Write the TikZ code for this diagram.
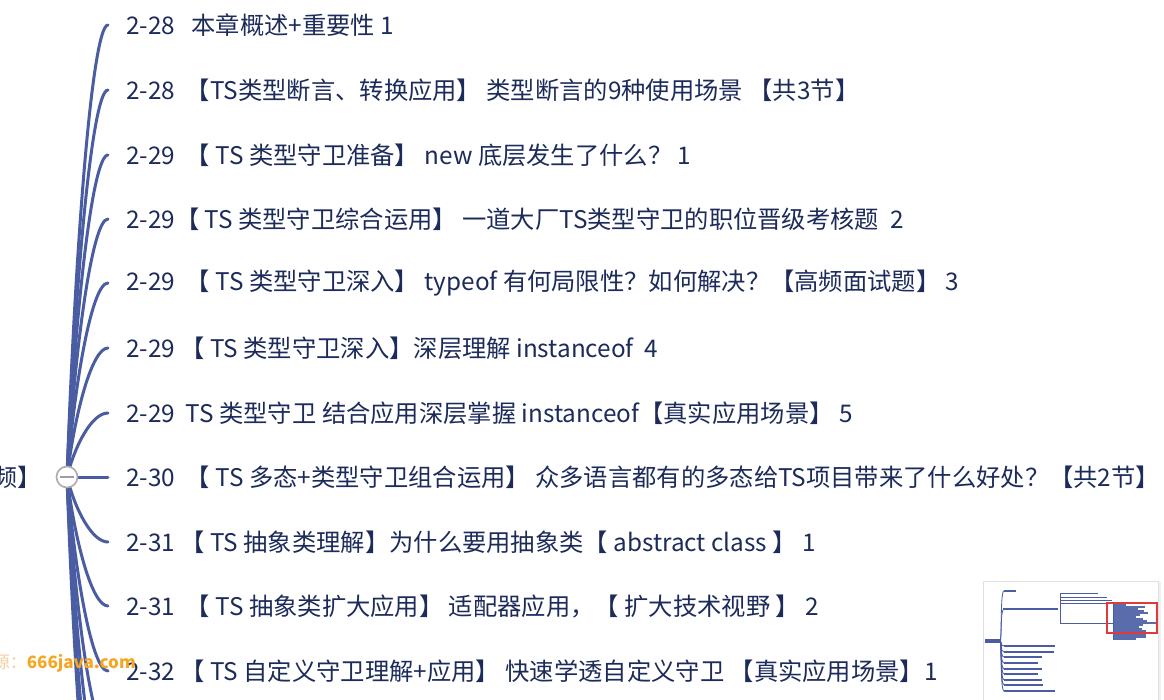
\documentclass[tikz,border=0pt]{standalone}
\usepackage{fontspec}
\setmainfont{Noto Sans CJK SC}
\definecolor{txt}{HTML}{1C2B5A}
\definecolor{ln}{HTML}{4A5DA3}
\definecolor{wm}{HTML}{F5A623}
\definecolor{wml}{HTML}{F4CFA0}
\definecolor{mmred}{HTML}{E03A3A}
\begin{document}
\begin{tikzpicture}[x=1pt,y=-1pt,
  item/.style={anchor=west, inner xsep=18pt, inner ysep=0pt, font=\fontsize{24.3}{28}\selectfont, text=txt},
  edge/.style={draw=ln, line width=3pt, line cap=round},
  mm/.style={draw=ln, line width=0.8pt},
  mmbar/.style={draw=ln, line width=2.6pt}]
\useasboundingbox (0,0) rectangle (1164,700);
\fill[white] (0,0) rectangle (1164,700);
\clip (0,0) rectangle (1164,700);

% parent (partially visible)
\node[anchor=east, inner sep=0pt, font=\fontsize{24}{28}\selectfont, text=txt] (par) at (42,477) {频】};

% children
\node[item] (c1) at (108,25) {2-28\ \ \ 本章概述+重要性 1};
\node[item] (c2) at (108,90) {2-28\ \ 【TS类型断言、转换应用】 类型断言的9种使用场景 【共3节】};
\node[item] (c3) at (108,155) {2-29\ \ 【 TS 类型守卫准备】 new 底层发生了什么？ 1};
\node[item] (c4) at (108,219) {2-29【 TS 类型守卫综合运用】\ 一道大厂TS类型守卫的职位晋级考核题\ \ 2};
\node[item] (c5) at (108,283) {2-29\ \ 【 TS 类型守卫深入】 typeof 有何局限性？如何解决？【高频面试题】 3};
\node[item] (c6) at (108,348) {2-29 【 TS 类型守卫深入】深层理解 instanceof\ \ 4};
\node[item] (c7) at (108,413) {2-29\ \ TS 类型守卫 结合应用深层掌握 instanceof【真实应用场景】 5};
\node[item] (c8) at (108,477) {2-30\ \ 【 TS 多态+类型守卫组合运用】 众多语言都有的多态给TS项目带来了什么好处？【共2节】};
\node[item] (c9) at (108,542) {2-31 【 TS 抽象类理解】为什么要用抽象类【 abstract class 】 1};
\node[item] (c10) at (108,606) {2-31\ \ 【 TS 抽象类扩大应用】 适配器应用，【 扩大技术视野 】 2};
\node[item] (c11) at (108,671) {2-32 【 TS 自定义守卫理解+应用】 快速学透自定义守卫 【真实应用场景】1};

% off-screen continuation
\coordinate (x1) at (108,735);
\coordinate (x2) at (108,800);
\coordinate (x3) at (108,865);
\coordinate (x4) at (108,930);
\coordinate (hubc) at (67,477);

% connectors
\foreach \n/\y in {c1/25,c2/90,c3/155,c4/219,c5/283,c6/348,c7/413,c9/542,c10/606,c11/671}
  \draw[edge] (hubc) .. controls (75,{(477+\y)/2}) and (92,\y) .. (\n.west);
\foreach \n/\y in {x1/735,x2/800,x3/865,x4/930}
  \draw[edge] (hubc) .. controls (75,{(477+\y)/2}) and (92,\y) .. (\n);
\draw[edge] (hubc) -- (c8.west);

% collapse button
\node[circle, draw=gray!65, fill=white, line width=1.6pt, minimum size=21pt, inner sep=0pt] (hub) at (hubc) {};
\draw[gray!75, line width=1.6pt] ([xshift=4pt]hub.west) -- ([xshift=-4pt]hub.east);

% watermark
\node[anchor=east, inner sep=0pt, font=\fontsize{17}{20}\selectfont] (wmk) at (136,663)
  {\textcolor{wml}{资源：}\textcolor{wm}{\bfseries 666java.com}};

% minimap
\fill[black!6] (984,582) rectangle (1161,703);
\filldraw[fill=white, draw=black!12, line width=0.6pt] (983,581) rectangle (1158,703);
\draw[ln, line width=4pt] (985,641) -- (1000,641);
\foreach \y in {591,609}
  \draw[mm] (1000,641) .. controls (1002,641) and (1000,\y) .. (1004,\y);
\draw[mmbar, line width=2pt] (1004,591) -- (1016,591);
\draw[mmbar, line width=2pt] (1003,609) -- (1058,609);
\foreach \y/\e in {646/1055,652/1054,657/1042,663/1038,669/1042,674/1038,680/1042,685/1043,691/1055}{
  \draw[mm] (1000,641) .. controls (1002,641) and (1000,\y) .. (1004,\y);
  \draw[mmbar] (1004,\y) -- (\e,\y);
}
\draw[mm] (1060,593) -- (1060,623);
\foreach \y/\e in {593/1098,597/1107,600/1112,603/1110}
  \draw[ln, line width=1pt] (1061,\y) -- (\e,\y);
\draw[ln, line width=0.9pt] (1060,623) -- (1113,623);
\draw[mm] (1113,603) -- (1113,640);
\foreach \y/\e in {605/1126,607/1145,609/1138,611/1144,613/1148,615/1140,617/1136,619/1143,621/1147,623/1158,625/1143,627/1139,629/1142,631/1146,633/1147,635/1146,637/1146,639/1136}
  \draw[ln, line width=1.1pt, opacity=0.9] (1114,\y) -- (\e,\y);
\draw[mmred, line width=1.2pt] (1107,603) rectangle (1157,633);
\end{tikzpicture}
\end{document}
